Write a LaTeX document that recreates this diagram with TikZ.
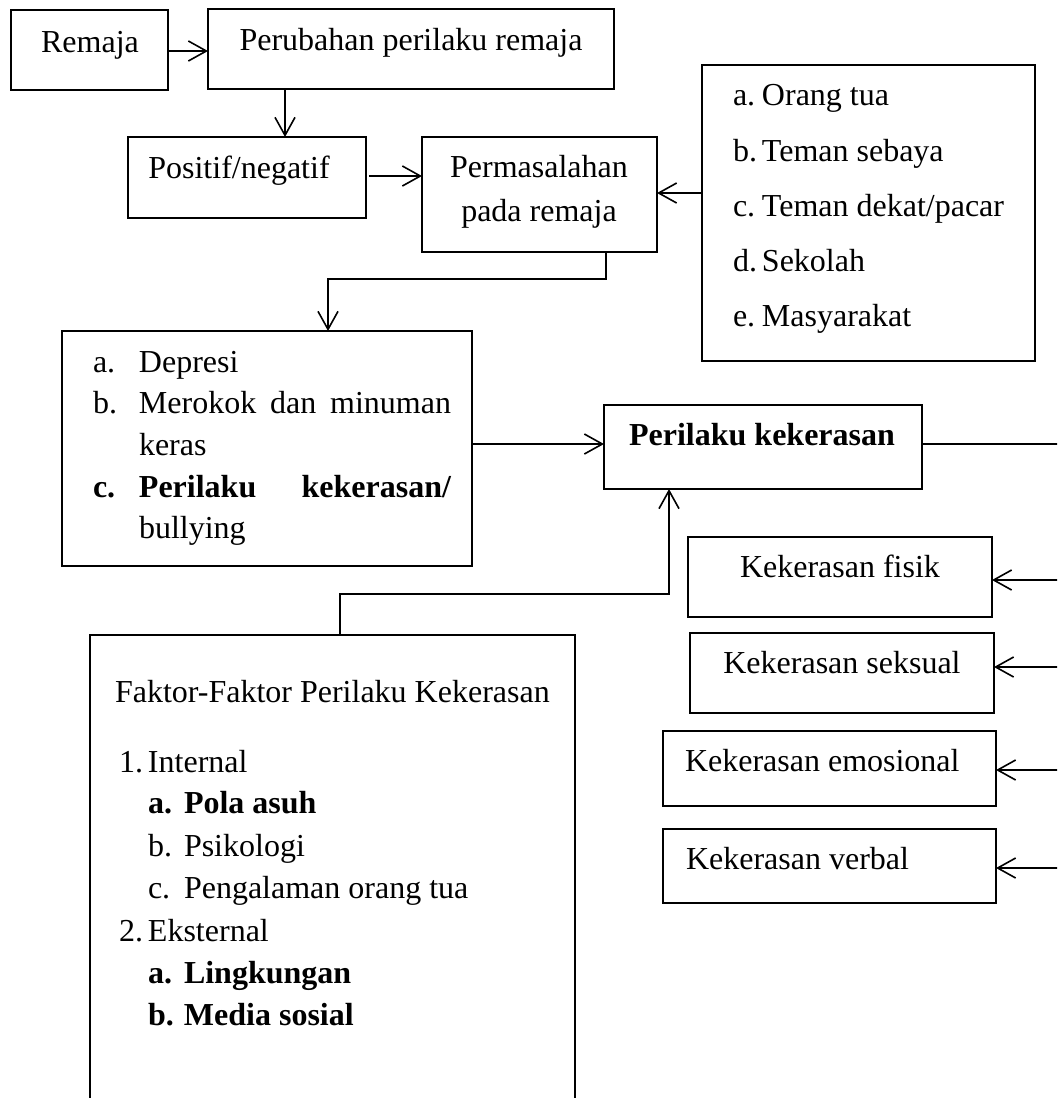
\documentclass[tikz,border=0pt]{standalone}
\usepackage{fontspec}
\setmainfont{Liberation Serif}
\usetikzlibrary{arrows.meta,fit,calc}
\begin{document}
\begin{tikzpicture}[x=0.5pt,y=-0.5pt,
  bx/.style={draw,line width=1.2pt,inner sep=0pt,outer sep=0pt},
  thinbx/.style={draw,line width=0.6pt,inner sep=0pt,outer sep=0pt},
  txt/.style={inner sep=0pt,outer sep=0pt,font=\fontsize{16}{19}\selectfont},
  ln/.style={line width=0.8pt},
  arr/.style={line width=0.8pt,-{Straight Barb[length=9pt,width=10pt,line width=0.8pt]}}]
\useasboundingbox (0,0) rectangle (1057,1098);
\clip (0,0) rectangle (1057,1098);

% boxes
\node[bx,fit={(11,10)(168,90)}] (remaja) {};
\node[txt,anchor=base] (tremaja) at (90,52) {Remaja};
\node[bx,fit={(208,9)(614,89)}] (perub) {};
\node[txt,anchor=base] (tperub) at (411,50) {Perubahan perilaku remaja};
\node[bx,fit={(128,137)(366,218)}] (positif) {};
\node[txt,anchor=base] (tpositif) at (239,178) {Positif/negatif};
\node[bx,fit={(422,137)(657,252)}] (permas) {};
\node[txt,anchor=base] (tpermas1) at (539,177) {Permasalahan};
\node[txt,anchor=base] (tpermas2) at (539,221) {pada remaja};

\node[bx,fit={(702,65)(1035,361)}] (list) {};
\node[txt,anchor=base west] (l1) at (733,105) {\makebox[14.5pt][l]{a.}Orang tua};
\node[txt,anchor=base west] (l2) at (733,161) {\makebox[14.5pt][l]{b.}Teman sebaya};
\node[txt,anchor=base west] (l3) at (733,216) {\makebox[14.5pt][l]{c.}Teman dekat/pacar};
\node[txt,anchor=base west] (l4) at (733,271) {\makebox[14.5pt][l]{d.}Sekolah};
\node[txt,anchor=base west] (l5) at (733,326) {\makebox[14.5pt][l]{e.}Masyarakat};

\node[bx,fit={(62,331)(472,566)}] (depresi) {};
\node[txt,anchor=base west] (d1) at (93,372) {\makebox[23pt][l]{a.}Depresi};
\node[txt,anchor=base west] (d2) at (93,413) {\makebox[23pt][l]{b.}\makebox[156pt][s]{Merokok dan minuman}};
\node[txt,anchor=base west] (d3) at (139,455) {keras};
\node[txt,anchor=base west] (d4) at (93,497) {\bfseries\makebox[23pt][l]{c.}\makebox[156pt][s]{Perilaku kekerasan/}};
\node[txt,anchor=base west] (d5) at (139,538) {bullying};

\node[bx,fit={(604,405)(922,489)}] (perilaku) {};
\node[txt,anchor=base] (tperilaku) at (762,445) {\bfseries Perilaku kekerasan};

\node[thinbx,fit={(90,635)(575,1130)}] (faktor) {};
\node[txt,anchor=base west] (f0) at (115,702) {Faktor-Faktor Perilaku Kekerasan};
\node[txt,anchor=base west] (f1) at (119,772) {\makebox[14.5pt][l]{1.}Internal};
\node[txt,anchor=base west] (f2) at (148,813) {\bfseries\makebox[18pt][l]{a.}Pola asuh};
\node[txt,anchor=base west] (f3) at (148,856) {\makebox[18pt][l]{b.}Psikologi};
\node[txt,anchor=base west] (f4) at (148,898) {\makebox[18pt][l]{c.}Pengalaman orang tua};
\node[txt,anchor=base west] (f5) at (119,941) {\makebox[14.5pt][l]{2.}Eksternal};
\node[txt,anchor=base west] (f6) at (148,983) {\bfseries\makebox[18pt][l]{a.}Lingkungan};
\node[txt,anchor=base west] (f7) at (148,1025) {\bfseries\makebox[18pt][l]{b.}Media sosial};

\node[bx,fit={(688,537)(992,617)}] (fisik) {};
\node[txt,anchor=base] (tfisik) at (840,577) {Kekerasan fisik};
\node[bx,fit={(690,633)(994,713)}] (seksual) {};
\node[txt,anchor=base] (tseksual) at (842,673) {Kekerasan seksual};
\node[bx,fit={(663,731)(996,806)}] (emosional) {};
\node[txt,anchor=base west] (temosional) at (685,771) {Kekerasan emosional};
\node[bx,fit={(663,829)(996,903)}] (verbal) {};
\node[txt,anchor=base west] (tverbal) at (686,869) {Kekerasan verbal};

% helper coordinates
\coordinate (h51) at (0,51);
\coordinate (v285) at (285,0);
\coordinate (h176) at (0,176);
\coordinate (h193) at (0,193);
\coordinate (p1) at (606,279);
\coordinate (p2) at (328,279);
\coordinate (h444) at (0,444);
\coordinate (edge) at (1058,0);
\coordinate (k1) at (340,594);
\coordinate (k2) at (669,594);
\coordinate (y580) at (0,580);
\coordinate (y667) at (0,667);
\coordinate (y770) at (0,770);
\coordinate (y868) at (0,868);

% connectors
\draw[arr] (remaja.east |- h51) -- (perub.west |- h51);
\draw[arr] (perub.south -| v285) -- (positif.north -| v285);
\draw[arr] ([xshift=1.5pt]positif.east |- h176) -- (permas.west |- h176);
\draw[arr] (list.west |- h193) -- (permas.east |- h193);
\draw[arr] (permas.south -| p1) -- (p1) -- (p2) -- (depresi.north -| p2);
\draw[arr] (depresi.east |- h444) -- (perilaku.west |- h444);
\draw[ln] (perilaku.east |- h444) -- (edge |- h444);
\draw[arr] (faktor.north -| k1) -- (k1) -- (k2) -- (perilaku.south -| k2);
\draw[arr] (edge |- y580) -- (fisik.east |- y580);
\draw[arr] (edge |- y667) -- (seksual.east |- y667);
\draw[arr] (edge |- y770) -- (emosional.east |- y770);
\draw[arr] (edge |- y868) -- (verbal.east |- y868);
\end{tikzpicture}
\end{document}
